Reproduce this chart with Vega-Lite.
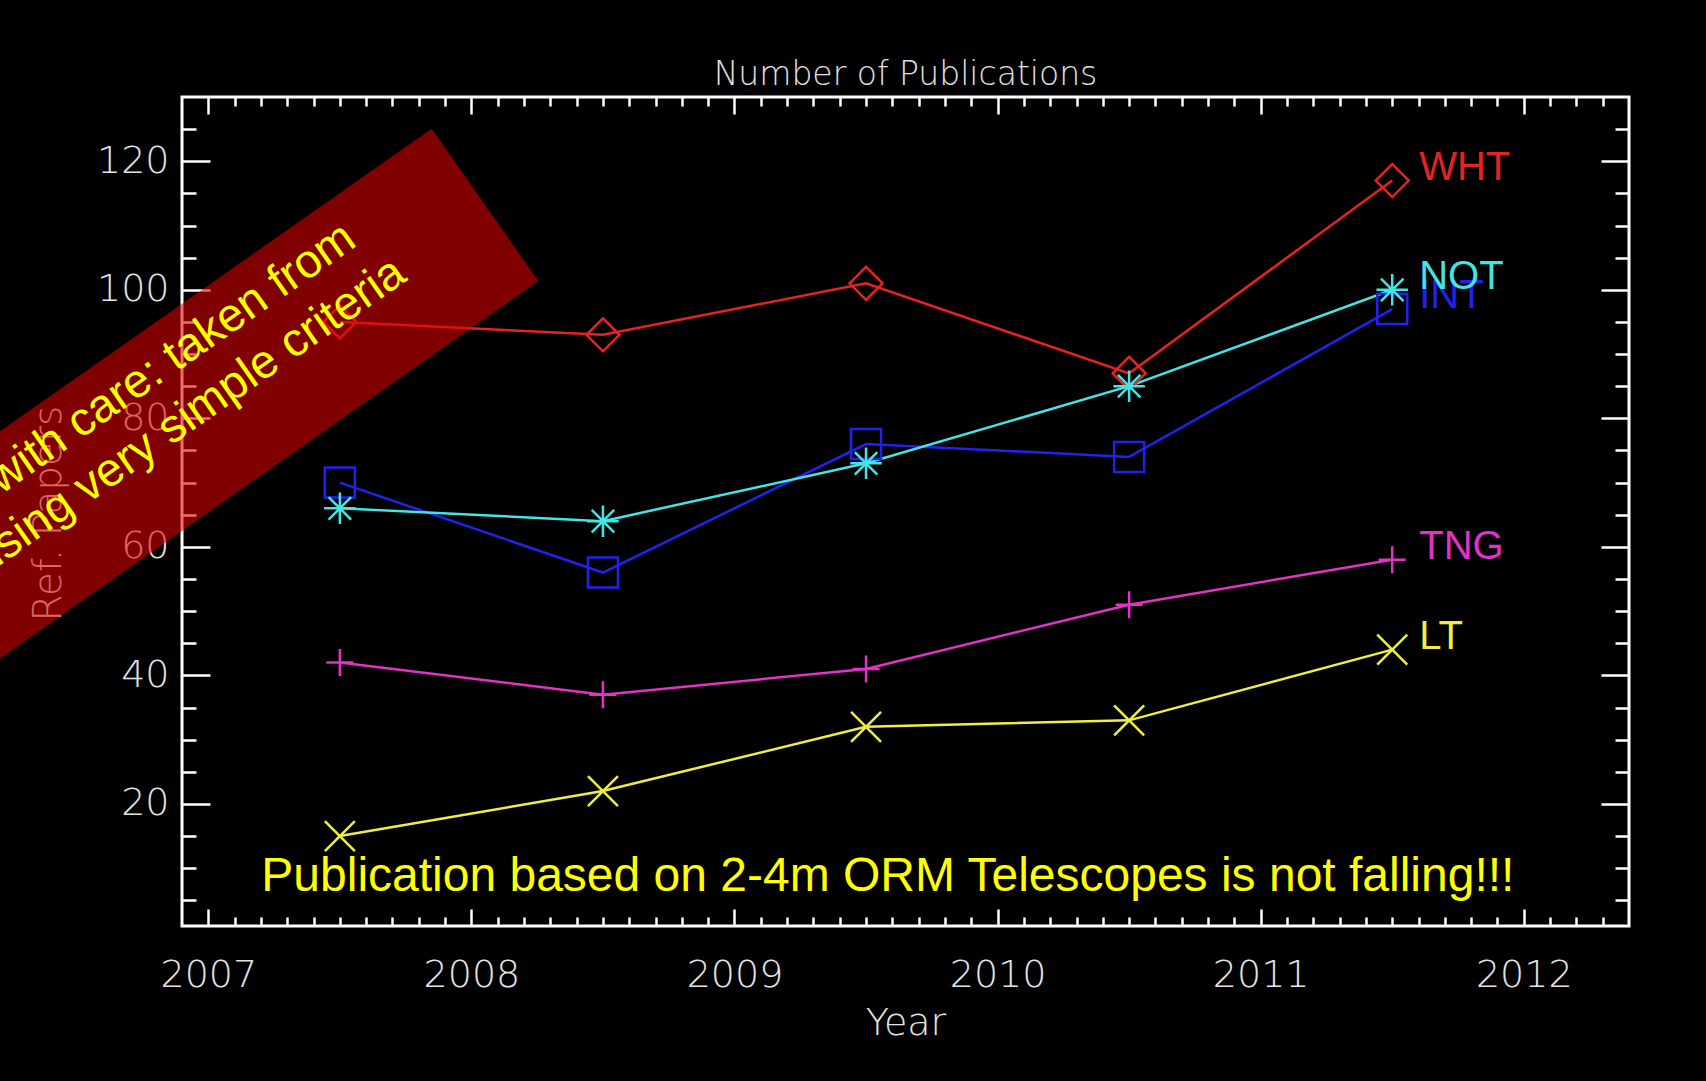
{
  "$schema": "https://vega.github.io/schema/vega-lite/v6.json",
  "width": 1447,
  "height": 829,
  "padding": {"left": 182, "top": 97, "right": 77, "bottom": 155},
  "autosize": {"type": "none"},
  "background": "#000000",
  "title": {"text": "Number of Publications", "font": "DejaVu Sans", "fontSize": 33, "fontWeight": 200, "color": "#e0e0e0", "anchor": "middle", "baseline": "alphabetic", "offset": -22},
  "config": {
    "view": {"stroke": "#ffffff", "strokeWidth": 3},
    "axis": {"grid": false, "domain": false}
  },
  "data": {"values": [
    {"year": 2007.5, "series": "WHT", "value": 95},
    {"year": 2008.5, "series": "WHT", "value": 93},
    {"year": 2009.5, "series": "WHT", "value": 101},
    {"year": 2010.5, "series": "WHT", "value": 87},
    {"year": 2011.5, "series": "WHT", "value": 117},
    {"year": 2007.5, "series": "INT", "value": 70},
    {"year": 2008.5, "series": "INT", "value": 56},
    {"year": 2009.5, "series": "INT", "value": 76},
    {"year": 2010.5, "series": "INT", "value": 74},
    {"year": 2011.5, "series": "INT", "value": 97},
    {"year": 2007.5, "series": "NOT", "value": 66},
    {"year": 2008.5, "series": "NOT", "value": 64},
    {"year": 2009.5, "series": "NOT", "value": 73},
    {"year": 2010.5, "series": "NOT", "value": 85},
    {"year": 2011.5, "series": "NOT", "value": 100},
    {"year": 2007.5, "series": "TNG", "value": 42},
    {"year": 2008.5, "series": "TNG", "value": 37},
    {"year": 2009.5, "series": "TNG", "value": 41},
    {"year": 2010.5, "series": "TNG", "value": 51},
    {"year": 2011.5, "series": "TNG", "value": 58},
    {"year": 2007.5, "series": "LT", "value": 15},
    {"year": 2008.5, "series": "LT", "value": 22},
    {"year": 2009.5, "series": "LT", "value": 32},
    {"year": 2010.5, "series": "LT", "value": 33},
    {"year": 2011.5, "series": "LT", "value": 44}
  ]},
  "resolve": {"axis": {"x": "independent", "y": "independent"}},
  "layer": [
    {
      "mark": {"type": "line", "strokeWidth": 2.5},
      "encoding": {
        "x": {"field": "year", "type": "quantitative",
          "scale": {"domain": [2006.9, 2012.4], "nice": false, "zero": false},
          "axis": {"orient": "bottom", "values": [2007, 2008, 2009, 2010, 2011, 2012], "ticks": false, "format": "d",
            "labelFont": "DejaVu Sans", "labelFontSize": 38, "labelFontWeight": 200, "labelColor": "#e4e4e4", "labelPadding": 30, "labelFlush": false,
            "title": "Year", "titleFont": "DejaVu Sans", "titleFontSize": 38, "titleFontWeight": 200, "titleColor": "#e4e4e4", "titleBaseline": "alphabetic", "titleY": 108}},
        "y": {"field": "value", "type": "quantitative",
          "scale": {"domain": [1, 130], "nice": false, "zero": false},
          "axis": {"orient": "left", "values": [20, 40, 60, 80, 100, 120], "ticks": false, "format": "d",
            "labelFont": "DejaVu Sans", "labelFontSize": 38, "labelFontWeight": 200, "labelColor": "#e4e4e4", "labelPadding": 13, "labelFlush": false,
            "title": "Ref. Papers", "titleFont": "DejaVu Sans", "titleFontSize": 39, "titleFontWeight": 200, "titleColor": "#e4e4e4",
            "titleAngle": -90, "titleBaseline": "alphabetic", "titleAlign": "center", "titleX": -122, "titleY": 416}},
        "color": {"field": "series", "type": "nominal",
          "scale": {"domain": ["WHT", "INT", "NOT", "TNG", "LT"], "range": ["#e62222", "#2222ee", "#44e4e4", "#e232c8", "#eeee44"]},
          "legend": null}
      }
    },
    {
      "mark": {"type": "point", "filled": false, "strokeWidth": 2.5, "size": 900, "opacity": 1},
      "encoding": {
        "x": {"field": "year", "type": "quantitative",
          "scale": {"domain": [2006.9, 2012.4], "nice": false, "zero": false},
          "axis": {"orient": "bottom", "labels": false, "title": null, "tickColor": "#ffffff", "tickWidth": 2.5,
            "tickSize": {"condition": {"test": "abs(datum.value - round(datum.value)) < 0.001", "value": -17}, "value": -9},
            "values": [2007, 2007.1, 2007.2, 2007.3, 2007.4, 2007.5, 2007.6, 2007.7, 2007.8, 2007.9, 2008, 2008.1, 2008.2, 2008.3, 2008.4, 2008.5, 2008.6, 2008.7, 2008.8, 2008.9, 2009, 2009.1, 2009.2, 2009.3, 2009.4, 2009.5, 2009.6, 2009.7, 2009.8, 2009.9, 2010, 2010.1, 2010.2, 2010.3, 2010.4, 2010.5, 2010.6, 2010.7, 2010.8, 2010.9, 2011, 2011.1, 2011.2, 2011.3, 2011.4, 2011.5, 2011.6, 2011.7, 2011.8, 2011.9, 2012, 2012.1, 2012.2, 2012.3]}},
        "y": {"field": "value", "type": "quantitative",
          "scale": {"domain": [1, 130], "nice": false, "zero": false},
          "axis": {"orient": "left", "labels": false, "title": null, "tickColor": "#ffffff", "tickWidth": 2.5,
            "tickSize": {"condition": {"test": "datum.value % 20 === 0", "value": -28}, "value": -14},
            "values": [5, 10, 15, 20, 25, 30, 35, 40, 45, 50, 55, 60, 65, 70, 75, 80, 85, 90, 95, 100, 105, 110, 115, 120, 125]}},
        "color": {"field": "series", "type": "nominal",
          "scale": {"domain": ["WHT", "INT", "NOT", "TNG", "LT"], "range": ["#e62222", "#2222ee", "#44e4e4", "#e232c8", "#eeee44"]},
          "legend": null},
        "shape": {"field": "series", "type": "nominal",
          "scale": {"domain": ["WHT", "INT", "NOT", "TNG", "LT"],
            "range": ["M-1.1,0L0,-1.1L1.1,0L0,1.1Z", "M-1,-1H1V1H-1Z", "M-1.05,0H1.05M0,-1.05V1.05M-0.75,-0.75L0.75,0.75M-0.75,0.75L0.75,-0.75", "M-0.9,0H0.9M0,-0.9V0.9", "M-1,-1L1,1M-1,1L1,-1"]},
          "legend": null}
      }
    },
    {
      "transform": [{"filter": "datum.year === 2011.5"}],
      "mark": {"type": "text", "font": "Liberation Sans", "fontSize": 40, "align": "left", "baseline": "middle", "dx": 27, "dy": -13},
      "encoding": {
        "x": {"field": "year", "type": "quantitative",
          "scale": {"domain": [2006.9, 2012.4], "nice": false, "zero": false},
          "axis": {"orient": "top", "labels": false, "title": null, "tickColor": "#ffffff", "tickWidth": 2.5,
            "tickSize": {"condition": {"test": "abs(datum.value - round(datum.value)) < 0.001", "value": -17}, "value": -9},
            "values": [2007, 2007.1, 2007.2, 2007.3, 2007.4, 2007.5, 2007.6, 2007.7, 2007.8, 2007.9, 2008, 2008.1, 2008.2, 2008.3, 2008.4, 2008.5, 2008.6, 2008.7, 2008.8, 2008.9, 2009, 2009.1, 2009.2, 2009.3, 2009.4, 2009.5, 2009.6, 2009.7, 2009.8, 2009.9, 2010, 2010.1, 2010.2, 2010.3, 2010.4, 2010.5, 2010.6, 2010.7, 2010.8, 2010.9, 2011, 2011.1, 2011.2, 2011.3, 2011.4, 2011.5, 2011.6, 2011.7, 2011.8, 2011.9, 2012, 2012.1, 2012.2, 2012.3]}},
        "y": {"field": "value", "type": "quantitative",
          "scale": {"domain": [1, 130], "nice": false, "zero": false},
          "axis": {"orient": "right", "labels": false, "title": null, "tickColor": "#ffffff", "tickWidth": 2.5,
            "tickSize": {"condition": {"test": "datum.value % 20 === 0", "value": -28}, "value": -14},
            "values": [5, 10, 15, 20, 25, 30, 35, 40, 45, 50, 55, 60, 65, 70, 75, 80, 85, 90, 95, 100, 105, 110, 115, 120, 125]}},
        "text": {"field": "series", "type": "nominal"},
        "color": {"field": "series", "type": "nominal",
          "scale": {"domain": ["WHT", "INT", "NOT", "TNG", "LT"], "range": ["#e62222", "#2222ee", "#44e4e4", "#e232c8", "#eeee44"]},
          "legend": null}
      }
    },
    {
      "data": {"values": [{"label": "Publication based on 2-4m ORM Telescopes is not falling!!!"}]},
      "mark": {"type": "text", "font": "Liberation Sans", "fontSize": 48, "color": "#ffff00", "align": "center", "baseline": "alphabetic"},
      "encoding": {
        "x": {"datum": 2009.583, "type": "quantitative", "scale": {"domain": [2006.9, 2012.4], "nice": false, "zero": false}, "axis": null},
        "y": {"datum": 6.5, "type": "quantitative", "scale": {"domain": [1, 130], "nice": false, "zero": false}, "axis": null},
        "text": {"field": "label", "type": "nominal"}
      }
    },
    {
      "data": {"values": [{"band": "caution"}]},
      "mark": {"type": "rule", "strokeWidth": 186, "strokeCap": "butt", "color": "#e10000", "opacity": 0.57},
      "encoding": {
        "x": {"datum": 2008.052, "type": "quantitative", "scale": {"domain": [2006.9, 2012.4], "nice": false, "zero": false}, "axis": null},
        "y": {"datum": 113.2, "type": "quantitative", "scale": {"domain": [1, 130], "nice": false, "zero": false}, "axis": null},
        "x2": {"datum": 2005.873},
        "y2": {"datum": 50.68}
      }
    },
    {
      "data": {"values": [{"label": "with care: taken from"}]},
      "mark": {"type": "text", "font": "Liberation Sans", "fontSize": 47, "color": "#ffff00", "angle": -35, "align": "right", "baseline": "middle"},
      "encoding": {
        "x": {"datum": 2007.54, "type": "quantitative", "scale": {"domain": [2006.9, 2012.4], "nice": false, "zero": false}, "axis": null},
        "y": {"datum": 108.8, "type": "quantitative", "scale": {"domain": [1, 130], "nice": false, "zero": false}, "axis": null},
        "text": {"field": "label", "type": "nominal"}
      }
    },
    {
      "data": {"values": [{"label": "using very simple criteria"}]},
      "mark": {"type": "text", "font": "Liberation Sans", "fontSize": 47, "color": "#ffff00", "angle": -35, "align": "right", "baseline": "middle"},
      "encoding": {
        "x": {"datum": 2007.73, "type": "quantitative", "scale": {"domain": [2006.9, 2012.4], "nice": false, "zero": false}, "axis": null},
        "y": {"datum": 103.4, "type": "quantitative", "scale": {"domain": [1, 130], "nice": false, "zero": false}, "axis": null},
        "text": {"field": "label", "type": "nominal"}
      }
    }
  ]
}
